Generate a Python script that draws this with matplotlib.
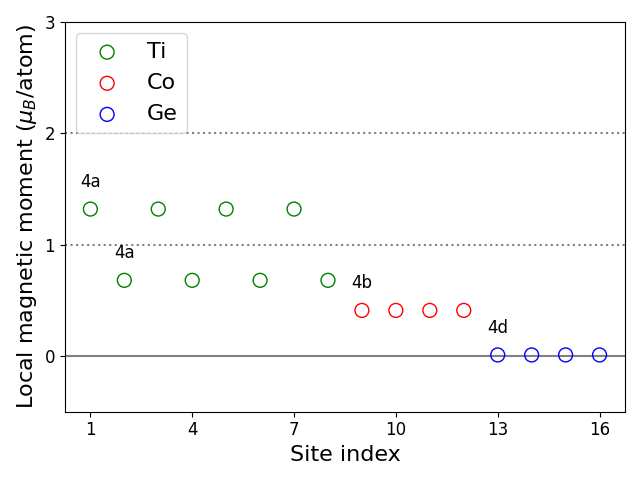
import numpy as np
import matplotlib
matplotlib.use('Agg')
import matplotlib.pyplot as plt

# site index and local moments
ti_sites = [1, 2, 3, 4, 5, 6, 7, 8]
ti_moment = [1.32, 0.68, 1.32, 0.68, 1.32, 0.68, 1.32, 0.68]
co_sites = [9, 10, 11, 12]
co_moment = [0.41, 0.41, 0.41, 0.41]
ge_sites = [13, 14, 15, 16]
ge_moment = [0.01, 0.01, 0.01, 0.01]

# wyckoff labels: (site, moment of that site, label)
wyckoff = [(1, 1.32, '4a'), (2, 0.68, '4a'), (9, 0.41, '4b'), (13, 0.01, '4d')]

fig, ax = plt.subplots(figsize=(6.4, 4.8), dpi=100)

ax.axhline(0, color='gray', lw=1.5, zorder=1)
ax.axhline(1, color='gray', ls=':', lw=1.5, zorder=1)
ax.axhline(2, color='gray', ls=':', lw=1.5, zorder=1)

ax.scatter(ti_sites, ti_moment, s=100, facecolors='none', edgecolors='green', label='Ti', zorder=3)
ax.scatter(co_sites, co_moment, s=100, facecolors='none', edgecolors='red', label='Co', zorder=3)
ax.scatter(ge_sites, ge_moment, s=100, facecolors='none', edgecolors='blue', label='Ge', zorder=3)

for x, y, lab in wyckoff:
    ax.text(x, y + 0.165, lab, fontsize=12, ha='center', va='bottom')

ax.set_xlim(0.25, 16.75)
ax.set_ylim(-0.5, 3)
ax.set_xticks([1, 4, 7, 10, 13, 16])
ax.set_yticks([0, 1, 2, 3])
ax.tick_params(labelsize=12)
ax.set_xlabel('Site index', fontsize=16)
ax.set_ylabel(r'Local magnetic moment ($\mu_B$/atom)', fontsize=16)
ax.legend(fontsize=16, loc='upper left')

plt.tight_layout()
plt.savefig('out.png')
